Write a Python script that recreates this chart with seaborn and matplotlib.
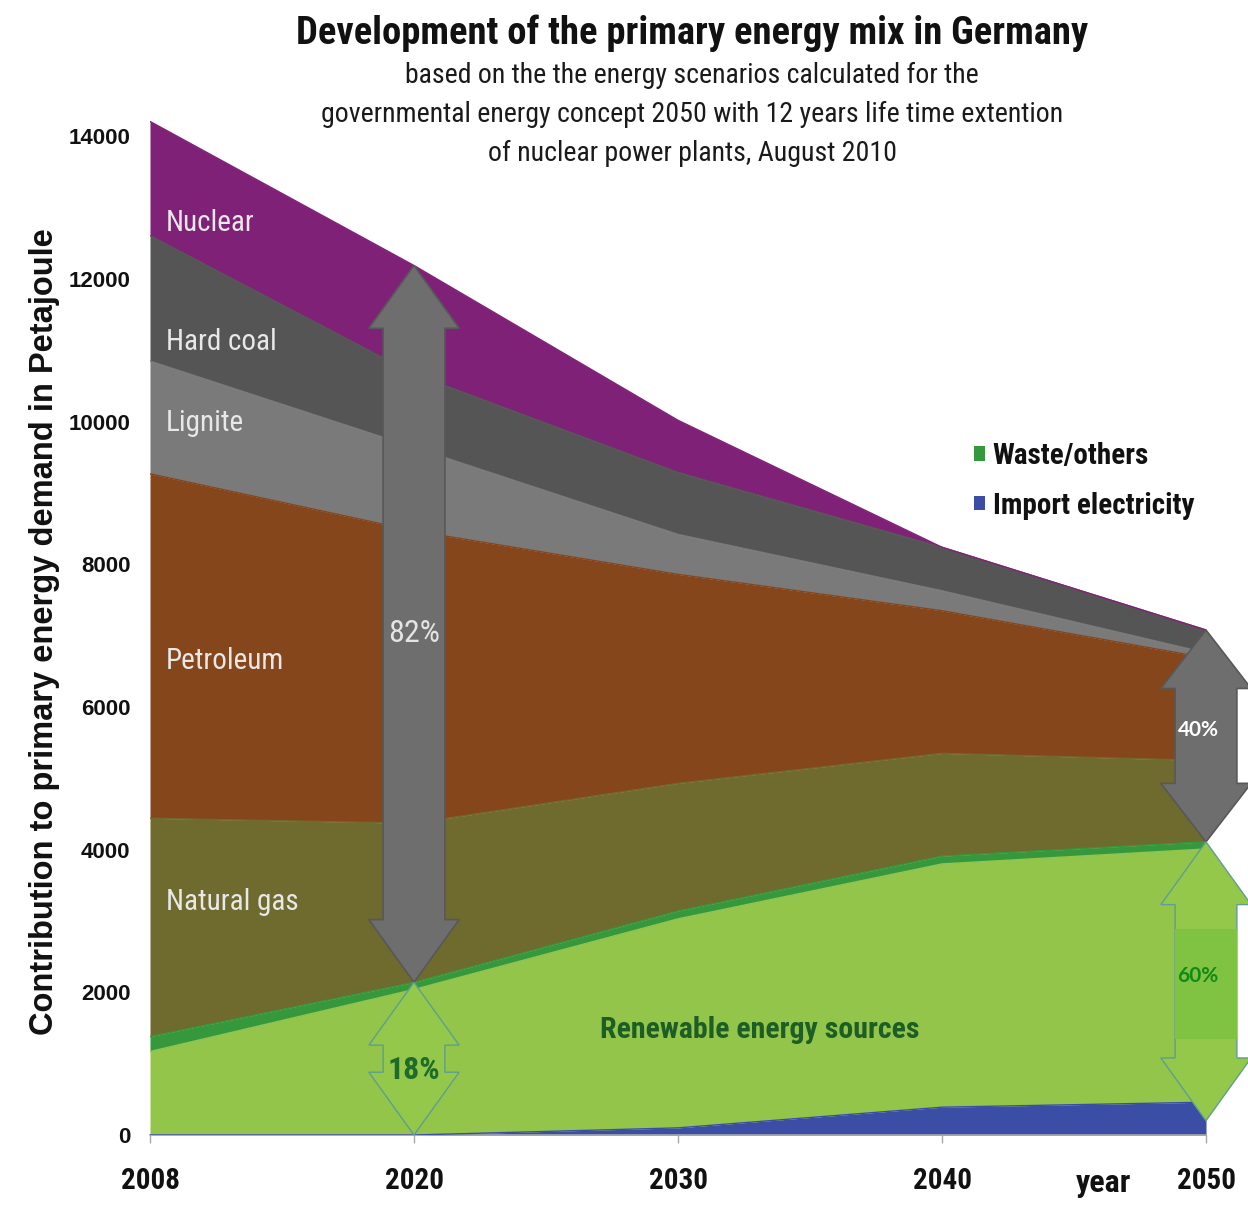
import matplotlib
matplotlib.use("Agg")
import matplotlib.pyplot as plt
from matplotlib import font_manager
from matplotlib.patches import Polygon, Patch
import numpy as np
import pandas as pd
import seaborn as sns

# ---- data (Petajoule) ----
years = ["2008", "2020", "2030", "2040", "2050"]
import_electricity = [0, 0, 100, 390, 460]
renewables = [1170, 2040, 2930, 3410, 3550]
waste_others = [210, 100, 110, 110, 100]
natural_gas = [3060, 2230, 1790, 1440, 1140]
petroleum = [4830, 4100, 2930, 2000, 1440]
lignite = [1580, 1170, 560, 280, 70]
hard_coal = [1760, 1030, 870, 610, 320]
nuclear = [1600, 1520, 730, 0, 0]

layer_names = ["Import electricity", "Renewable energy sources", "Waste/others",
               "Natural gas", "Petroleum", "Lignite", "Hard coal", "Nuclear"]
layer_values = [import_electricity, renewables, waste_others, natural_gas,
                petroleum, lignite, hard_coal, nuclear]
layer_colors = ["#3a4ea6", "#93c54b", "#35983c", "#6f6a2d",
                "#86461b", "#7a7a7a", "#555555", "#7f2177"]

y_ticks = [0, 2000, 4000, 6000, 8000, 10000, 12000, 14000]
share_2020 = ["82%", "18%"]
share_2050 = ["40%", "60%"]

# ---- fonts: look for a narrow sans for the captions ----
entries = font_manager.fontManager.ttflist
installed = {f.name for f in entries}


def pick_narrow():
    for name in ["Liberation Sans Narrow", "Roboto Condensed", "Noto Sans Condensed",
                 "Open Sans Condensed", "DejaVu Sans Condensed"]:
        if name in installed:
            return name, "normal"
    for fam in ["Noto Sans", "Roboto", "Open Sans", "DejaVu Sans", "Inter"]:
        for f in entries:
            if f.name == fam and str(f.stretch) in ("condensed", "semi-condensed",
                                                    "extra-condensed"):
                return fam, str(f.stretch)
    for f in entries:
        low = f.name.lower()
        if "condensed" in low or "narrow" in low:
            return f.name, "normal"
    return None, "normal"


NARROW, STRETCH = pick_narrow()
HAVE_NARROW = NARROW is not None
if not HAVE_NARROW:
    NARROW = "Liberation Sans" if "Liberation Sans" in installed else "DejaVu Sans"
WIDE = "Liberation Sans" if "Liberation Sans" in installed else "DejaVu Sans"
PCT = "Lato" if "Lato" in installed else "DejaVu Sans"
# wide fallback fonts need smaller sizes to fit the same space
K = 1.0 if HAVE_NARROW else 0.86

sns.set_theme(style="white")
plt.rcParams["font.family"] = [NARROW, "DejaVu Sans"]
plt.rcParams["font.stretch"] = STRETCH

# ---- long table with stacked bounds ----
pos = np.arange(len(years))
rows = []
base = np.zeros(len(years))
for name, vals in zip(layer_names, layer_values):
    top = base + np.array(vals, dtype=float)
    for i, y in enumerate(years):
        rows.append({"pos": pos[i], "year": y, "source": name,
                     "bottom": base[i], "top": top[i]})
    base = top
df = pd.DataFrame(rows)

fig = plt.figure(figsize=(12.48, 12.27), dpi=100)
fig.patch.set_facecolor("white")
ax = fig.add_axes([150 / 1248, 92 / 1227, 1056 / 1248, 1020 / 1227])
ax.set_facecolor("none")

palette = dict(zip(layer_names, layer_colors))
for name in layer_names:
    sub = df[df["source"] == name]
    ax.fill_between(sub["pos"], sub["bottom"], sub["top"],
                    color=palette[name], linewidth=0, zorder=2)
sns.lineplot(data=df, x="pos", y="top", hue="source", palette=palette,
             hue_order=layer_names, legend=False, linewidth=1.0,
             ax=ax, zorder=3)

ax.set_xlim(0, 4)
ax.set_ylim(0, 14300)
ax.set_xticks(pos)
ax.set_xticklabels(years)
ax.set_yticks(y_ticks)
ax.set_yticklabels([str(t) for t in y_ticks])
ax.set_xlabel("")
ax.set_ylabel("")
for s in ["top", "right", "left"]:
    ax.spines[s].set_visible(False)
ax.spines["bottom"].set_color("#a8a8a8")
ax.spines["bottom"].set_linewidth(1.2)
ax.tick_params(axis="x", length=6, width=1, color="#a8a8a8", pad=17,
               labelsize=21 * K, bottom=True)
ax.tick_params(axis="y", length=0, pad=14, labelsize=16)
for lab in ax.get_xticklabels() + ax.get_yticklabels():
    lab.set_fontweight("bold")
    lab.set_color("#111111")
for lab in ax.get_yticklabels():
    lab.set_family([WIDE, "DejaVu Sans"])
    lab.set_stretch("normal")

# ---- stacked bounds used by the arrows ----
tot = df.groupby("pos")["top"].max().values
renew_top = df[df["source"] == "Waste/others"]["top"].values


def double_arrow(x, y_top, y_bot, head_len, face, edge, lw=1.2,
                 shaft_hw=0.117, head_hw=0.171):
    pts = [(x, y_top), (x + head_hw, y_top - head_len),
           (x + shaft_hw, y_top - head_len), (x + shaft_hw, y_bot + head_len),
           (x + head_hw, y_bot + head_len), (x, y_bot),
           (x - head_hw, y_bot + head_len), (x - shaft_hw, y_bot + head_len),
           (x - shaft_hw, y_top - head_len), (x - head_hw, y_top - head_len)]
    ax.add_patch(Polygon(pts, closed=True, facecolor=face, edgecolor=edge,
                         linewidth=lw, clip_on=False, zorder=5))


GRAY_FACE, GRAY_EDGE = "#6e6e6e", "#585858"
GREEN_FACE, GREEN_EDGE = "#93c84b", "#5f9e90"

double_arrow(1, tot[1], renew_top[1], 880, GRAY_FACE, GRAY_EDGE)
double_arrow(1, renew_top[1], 0, 880, GREEN_FACE, GREEN_EDGE, lw=1.0)
double_arrow(4, tot[4], renew_top[4], 820, GRAY_FACE, GRAY_EDGE)
double_arrow(4, renew_top[4], 200, 880, GREEN_FACE, GREEN_EDGE, lw=1.0)
ax.fill_between([4 - 0.117, 4 + 0.117], 1340, 2890, color="#80c242",
                linewidth=0, zorder=6, clip_on=False)

# ---- labels inside the areas ----
area_txt = dict(color="#e8e8e8", fontsize=21 * K, va="center", ha="left", zorder=7)
ax.text(0.06, 12780, "Nuclear", **area_txt)
ax.text(0.06, 11120, "Hard coal", **area_txt)
ax.text(0.06, 9980, "Lignite", **area_txt)
ax.text(0.06, 6640, "Petroleum", **area_txt)
ax.text(0.06, 3270, "Natural gas", **area_txt)
ax.text(2.31, 1470, "Renewable energy sources", color="#1d5e25", fontsize=21.5 * K,
        fontweight="bold", ha="center", va="center", zorder=7)

ax.text(1, 7030, share_2020[0], color="#e4e4e4", fontsize=23 * K, ha="center",
        va="center", zorder=7)
ax.text(1, 910, share_2020[1], color="#1f6b2a", fontsize=23 * K, fontweight="bold",
        ha="center", va="center", zorder=7)
ax.text(3.97, 5680, share_2050[0], color="white", fontsize=15, fontweight="bold",
        family=[PCT, "DejaVu Sans"], stretch="normal", ha="center", va="center",
        zorder=7, clip_on=False)
ax.text(3.97, 2225, share_2050[1], color="#138a18", fontsize=15, fontweight="bold",
        family=[PCT, "DejaVu Sans"], stretch="normal", ha="center", va="center",
        zorder=7, clip_on=False)

# ---- legend for the two thin layers ----
handles = [Patch(facecolor=palette["Waste/others"], edgecolor="none"),
           Patch(facecolor=palette["Import electricity"], edgecolor="none")]
leg = ax.legend(handles, ["Waste/others", "Import electricity"],
                loc="upper left", bbox_to_anchor=(962 / 1248, 1 - 430 / 1227),
                bbox_transform=fig.transFigure, frameon=False,
                prop={"family": [NARROW, "DejaVu Sans"], "weight": "bold",
                      "size": 21 * K, "stretch": STRETCH},
                handlelength=0.4, handleheight=0.4, handletextpad=0.25,
                labelspacing=0.75, borderaxespad=0)
for t in leg.get_texts():
    t.set_color("#111111")

# ---- titles and axis captions ----
fig.text(692 / 1248, 1 - 33 / 1227, "Development of the primary energy mix in Germany",
         fontsize=27.8 * K, fontweight="bold", ha="center", va="center", color="#111111")
sub_lines = ["based on the the energy scenarios calculated for the",
             "governmental energy concept 2050 with 12 years life time extention",
             "of nuclear power plants, August 2010"]
for yy, line in zip([75, 114, 153], sub_lines):
    fig.text(692 / 1248, 1 - yy / 1227, line, fontsize=20.1 * K, ha="center",
             va="center", color="#1a1a1a")

fig.text(45 / 1248, 1 - 632 / 1227, "Contribution to primary energy demand in Petajoule",
         rotation=90, fontsize=23.5, fontweight="bold", ha="center", va="center",
         family=[WIDE, "DejaVu Sans"], stretch="normal", color="#111111")
fig.text(1103 / 1248, 1 - 1183 / 1227, "year", fontsize=23, fontweight="bold",
         ha="center", va="center", color="#111111")

fig.savefig("out.png", dpi=100, facecolor="white")
